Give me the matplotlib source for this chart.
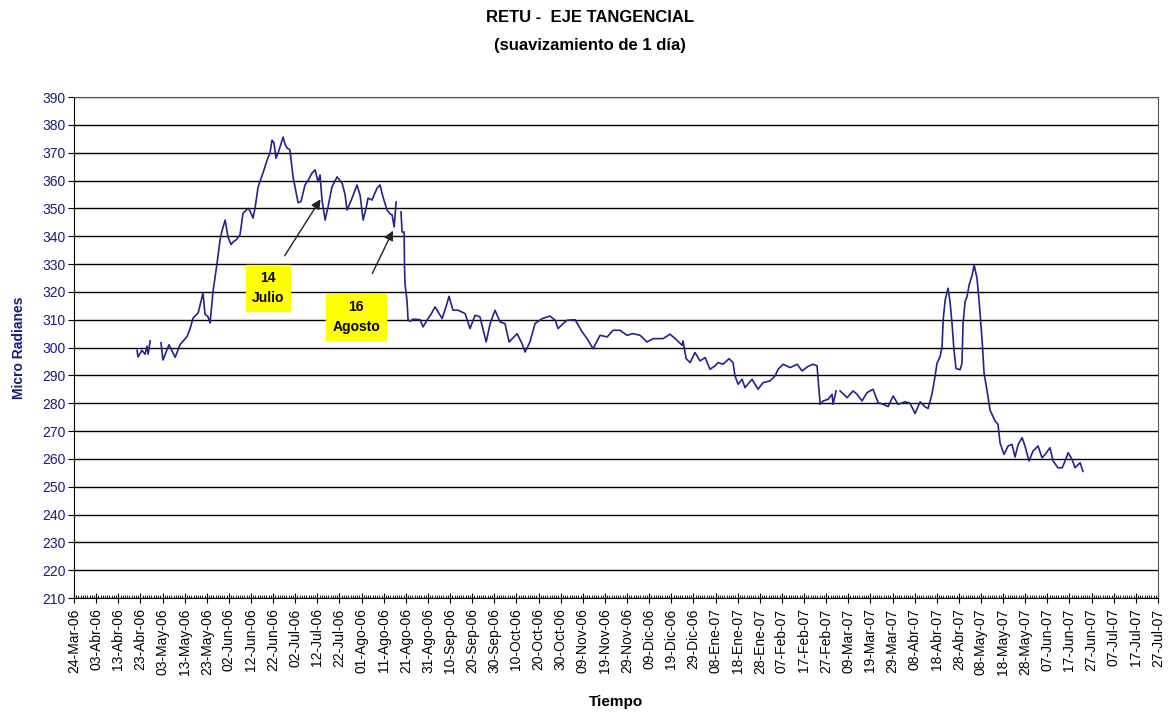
import numpy as np
import pandas as pd
import matplotlib
matplotlib.use("Agg")
import matplotlib.pyplot as plt
import matplotlib.dates as mdates
from matplotlib.ticker import FixedLocator, FuncFormatter, MultipleLocator

plt.rcParams['font.family'] = ['Liberation Sans', 'DejaVu Sans']

START = pd.Timestamp("2006-03-24")

# days since 24-Mar-06 and tangential tilt (micro radians); nan = gap in record
days = [28.5, 28.9, 30.7, 32.1, 33.0, 33.5, 34.4, 36.5,
        39.3, 40.2, 42.9, 45.7, 47.9, 51.1, 52.4, 53.8, 56.1, 58.3, 59.2, 60.6,
        61.5, 62.8, 64.6, 66.0, 66.9, 68.3, 69.6, 71.0, 71.9, 73.2, 75.0, 76.4,
        78.7, 79.6, 80.9, 81.8, 83.2, 85.4, 87.3, 88.6, 89.5, 90.4, 91.3, 92.7,
        94.5, 95.4, 96.3, 97.6, 99.0, 99.9, 101.3, 102.6, 104.4, 105.8, 107.6,
        109.0, 110.3, 111.2, 112.1, 113.5, 114.8, 116.6, 118.9, 121.2, 122.5,
        123.4, 125.7, 127.9, 129.3, 130.7, 132.0, 132.9, 134.7, 137.0, 138.3,
        139.7, 141.5, 142.9, 143.8, 144.7, 145.6, 146.7,
        147.8, 148.3, 149.2, 149.4, 149.6, 150.5, 151.0, 151.9, 153.3, 156.4,
        157.8, 160.0, 161.4, 163.2, 166.4, 168.6, 169.5, 171.3, 173.6, 176.8,
        179.0, 181.3, 183.5, 186.3, 188.1, 190.3, 192.6, 194.8, 196.7, 200.3,
        202.5, 203.9, 206.1, 208.4, 211.6, 215.2, 217.5, 218.8, 221.1, 222.9,
        226.5, 229.7, 231.9, 234.6, 237.8, 241.0, 243.7, 246.8, 250.0, 252.7,
        255.9, 259.0, 261.8, 266.3, 269.4, 272.6, 274.9, 275.3, 276.7, 278.5,
        280.7, 283.0, 285.3, 287.5, 289.8, 291.1, 293.4, 296.1, 297.9, 298.8,
        300.2, 302.0, 303.3, 306.5, 309.2, 311.5, 314.6, 316.9, 318.3, 320.5,
        323.7, 326.9, 329.1, 331.8, 334.1, 335.9, 336.3, 337.3, 338.6, 340.9,
        342.7, 343.1, 344.5, 345.4,
        346.3, 349.5, 352.2, 354.0, 356.2, 358.5, 361.2, 363.5, 365.7, 368.0,
        370.3, 372.5, 375.7, 377.9, 380.2, 382.5, 384.7, 386.1, 387.9, 389.2,
        390.1, 391.5, 392.4, 392.9, 393.8, 395.1, 396.0, 396.9, 397.8, 398.7,
        400.5, 401.4, 401.9, 402.8, 403.7, 404.6, 406.0, 406.9, 408.2, 409.1,
        410.5, 411.4, 412.7, 414.1, 415.5, 416.4, 417.7, 418.6, 420.4, 422.2,
        424.0, 425.4, 426.8, 428.6, 429.9, 431.7, 433.5, 435.8, 437.6, 439.0,
        441.2, 442.6, 444.8, 446.7, 448.0, 449.4, 451.2, 452.5, 454.8, 456.1]

tilt = [299.0, 296.6, 299.0, 297.6, 300.5, 297.6, 302.4, np.nan,
        301.7, 295.5, 301.0, 296.5, 301.0, 304.0, 306.6, 310.6, 312.4, 319.6, 312.0, 311.0,
        308.8, 320.0, 330.0, 338.6, 342.0, 345.8, 339.7, 337.0, 338.0, 338.6, 340.4, 348.3,
        350.0, 349.0, 346.5, 350.0, 357.7, 362.7, 367.4, 370.0, 374.5, 373.5, 368.0, 371.0,
        375.6, 373.0, 371.7, 371.0, 361.3, 357.7, 352.0, 352.5, 358.4, 360.0, 362.7,
        363.8, 359.5, 362.0, 353.0, 345.8, 350.5, 357.7, 361.3, 359.0, 355.0,
        349.4, 353.7, 358.4, 354.8, 345.8, 350.0, 353.7, 353.0, 357.3, 358.4,
        354.0, 349.4, 348.0, 347.6, 343.3, 352.3, np.nan,
        348.7, 341.5, 341.5, 329.0, 323.0, 317.0, 310.0, 309.4, 310.2, 310.0,
        307.4, 310.4, 312.0, 314.6, 310.4, 315.8, 318.4, 313.4, 313.4, 312.2,
        306.8, 311.6, 311.0, 302.0, 308.6, 313.4, 309.2, 308.6, 302.0, 305.0,
        301.4, 298.4, 302.0, 308.6, 310.4, 311.3, 309.8, 306.8, 308.6, 309.8,
        310.0, 305.6, 303.2, 299.6, 304.4, 303.8, 306.2, 306.2, 304.4, 305.0,
        304.4, 302.0, 303.2, 303.2, 304.8, 302.6, 300.8, 302.4, 296.0, 294.6,
        298.2, 295.2, 296.4, 292.2, 293.4, 294.6, 294.0, 296.0, 294.6, 289.8,
        286.8, 288.6, 285.6, 288.6, 285.0, 287.4, 288.0, 289.8, 292.2, 294.0,
        292.8, 294.0, 291.6, 293.2, 294.0, 293.4, 289.2, 279.6, 280.8, 281.4,
        283.2, 279.6, 284.4, np.nan,
        284.4, 282.0, 284.4, 283.2, 280.8, 283.8, 285.0, 280.2, 279.6, 278.8,
        282.6, 279.6, 280.5, 280.0, 276.3, 280.5, 278.7, 278.1, 283.5, 289.5,
        294.3, 296.7, 300.3, 309.9, 317.0, 321.3, 316.5, 308.7, 299.0, 292.5,
        292.0, 294.3, 308.7, 316.5, 318.3, 322.4, 326.0, 329.6, 324.9, 317.1,
        302.7, 290.7, 284.7, 277.5, 275.1, 273.6, 272.4, 265.8, 261.6, 264.6,
        265.2, 260.7, 265.2, 267.6, 264.6, 259.2, 262.8, 264.6, 260.4, 261.6,
        264.0, 259.2, 256.8, 256.8, 259.2, 262.2, 259.8, 256.8, 258.6, 255.5]

months_es = ["Ene", "Feb", "Mar", "Abr", "May", "Jun",
             "Jul", "Ago", "Sep", "Oct", "Nov", "Dic"]


def spanish_date(x, pos=None):
    d = mdates.num2date(x)
    return "%02d-%s-%02d" % (d.day, months_es[d.month - 1], d.year % 100)


def main():
    dates = START + pd.to_timedelta(days, unit="D")
    major = pd.date_range(START, periods=50, freq="10D")
    minor = pd.date_range(START, major[-1], freq="D")

    fig = plt.figure(figsize=(11.68, 7.15), dpi=100)
    ax = fig.add_axes([0.0634, 0.1636, 0.928, 0.7007])

    ax.plot(dates, tilt, color="#23238E", lw=1.2)

    ax.set_xlim(mdates.date2num(major[0]), mdates.date2num(major[-1]))
    ax.set_ylim(210, 390)
    ax.yaxis.set_major_locator(MultipleLocator(10))
    ax.yaxis.grid(True, color="black", lw=1.0)
    ax.set_axisbelow(True)

    ax.xaxis.set_major_locator(FixedLocator(mdates.date2num(major)))
    ax.xaxis.set_minor_locator(FixedLocator(mdates.date2num(minor)))
    ax.xaxis.set_major_formatter(FuncFormatter(spanish_date))
    ax.tick_params(axis="x", which="major", direction="inout", length=7,
                   labelsize=10, rotation=90, pad=4)
    ax.tick_params(axis="x", which="minor", direction="in", length=2.5, width=0.6)
    ax.tick_params(axis="y", which="major", direction="out", length=4,
                   labelsize=10, labelcolor="#1A1A80", pad=2)
    for s in ax.spines.values():
        s.set_color("#555555")
    ax.spines["bottom"].set_color("black")
    ax.spines["left"].set_color("black")

    ax.set_ylabel("Micro Radianes", fontsize=10, fontweight="bold",
                  color="#1A1A80", labelpad=12)
    ax.set_xlabel("Tiempo", fontsize=11, fontweight="bold", labelpad=14)

    fig.text(0.505, 0.975, "RETU -  EJE TANGENCIAL", ha="center", va="center",
             fontsize=12, fontweight="bold")
    fig.text(0.505, 0.937, "(suavizamiento de 1 día)", ha="center", va="center",
             fontsize=12, fontweight="bold")

    box = dict(boxstyle="square,pad=0.45", fc="yellow", ec="yellow")
    arrow = dict(arrowstyle="-|>", color="#222222", lw=1.0, mutation_scale=14)
    ax.annotate("", xy=(START + pd.Timedelta(days=112.1), 354.1),
                xytext=(START + pd.Timedelta(days=94.5), 332.1), arrowprops=arrow)
    ax.annotate("", xy=(START + pd.Timedelta(days=144.7), 342.9),
                xytext=(START + pd.Timedelta(days=134.3), 325.7), arrowprops=arrow)
    ax.text(START + pd.Timedelta(days=87.7), 321.4, "14\nJulio", ha="center",
            va="center", fontsize=10, fontweight="bold", bbox=box,
            linespacing=1.5)
    ax.text(START + pd.Timedelta(days=127.5), 311.0, "16\nAgosto", ha="center",
            va="center", fontsize=10, fontweight="bold", bbox=box,
            linespacing=1.5)

    fig.savefig("out.png", dpi=100)


if __name__ == "__main__":
    main()
